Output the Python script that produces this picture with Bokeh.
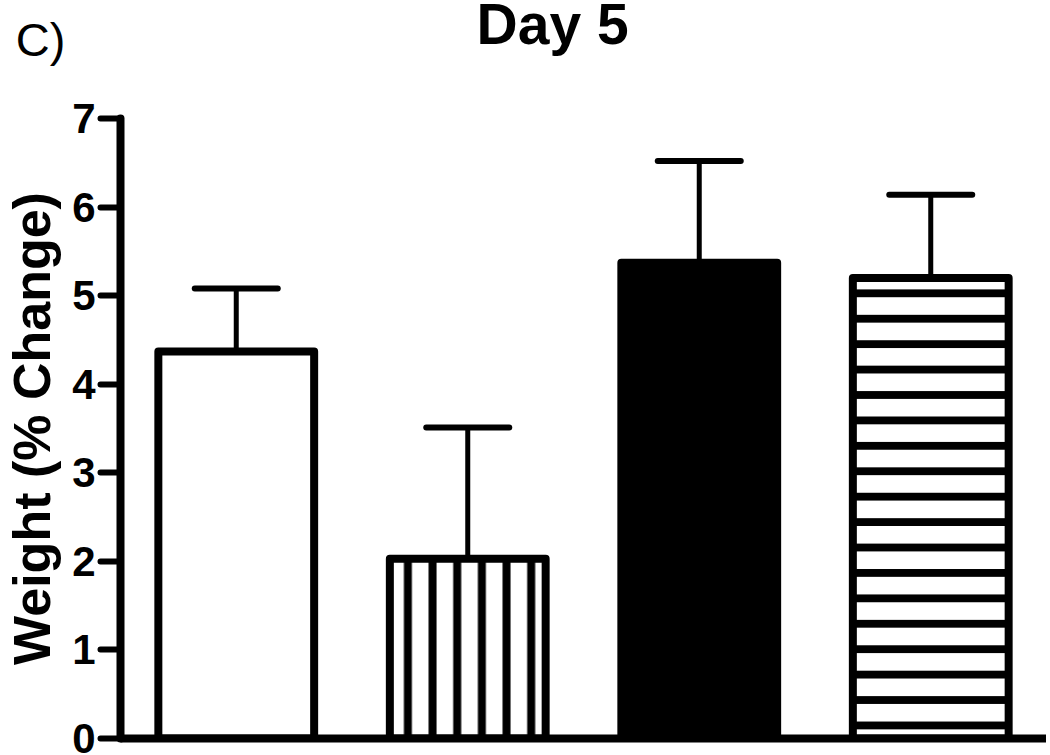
from bokeh.plotting import figure
from bokeh.models import ColumnDataSource, Whisker, TeeHead, Label, FixedTicker, FactorRange, Range1d
from bokeh.embed import file_html
from bokeh.resources import INLINE

# ---- data ----
groups = ["Group 1", "Group 2", "Group 3", "Group 4"]
means = [4.37, 2.03, 5.37, 5.20]
errors = [0.71, 1.48, 1.15, 0.94]
y_ticks = [0, 1, 2, 3, 4, 5, 6, 7]
title_text = "Day 5"
panel_text = "C)"
y_label = "Weight (% Change)"

# ---- styles ----
fills = ["white", "white", "black", "white"]
hatches = [" ", "|", " ", "-"]
hatch_scales = [24.8, 24.66, 24.8, 25.42]
FONT = "Liberation Sans"

upper = [m + e for m, e in zip(means, errors)]
src = ColumnDataSource(dict(g=groups, top=means, upper=upper,
                            fill=fills, hatch=hatches, hs=hatch_scales))

p = figure(width=1046, height=755, title=None,
           x_range=FactorRange(*groups), y_range=Range1d(0, 7),
           output_backend="svg", toolbar_location=None,
           min_border_left=115, min_border_right=0,
           min_border_top=118, min_border_bottom=17)
p.outline_line_color = None
p.grid.visible = False
p.background_fill_color = "white"
p.border_fill_color = "white"

p.vbar(x="g", top="top", bottom=0, width=0.673, source=src,
       fill_color="fill", line_color="black", line_width=8, line_join="round",
       hatch_pattern="hatch", hatch_color="black", hatch_weight=8, hatch_scale="hs")

w = Whisker(source=src, base="g", upper="upper", lower="top", dimension="height",
            line_color="black", line_width=5, line_cap="round",
            upper_head=TeeHead(size=83, line_width=6, line_color="black", line_cap="round"),
            lower_head=None)
p.add_layout(w)

# y axis
ya = p.yaxis[0]
ya.ticker = FixedTicker(ticks=y_ticks)
ya.minor_tick_line_color = None
ya.major_tick_in = 0
ya.major_tick_out = 20
ya.major_tick_line_width = 6
ya.major_tick_line_cap = "round"
ya.axis_line_width = 8
ya.axis_line_cap = "round"
ya.major_label_text_font = FONT
ya.major_label_text_font_style = "bold"
ya.major_label_text_font_size = "42px"
ya.major_label_text_color = "black"
ya.major_label_standoff = 5
ya.axis_label = y_label
ya.axis_label_text_font = FONT
ya.axis_label_text_font_style = "bold"
ya.axis_label_text_font_size = "52px"
ya.axis_label_text_color = "black"
ya.axis_label_standoff = 8

# x axis (baseline only, no labels)
xa = p.xaxis[0]
xa.axis_line_width = 8
xa.major_tick_line_color = None
xa.minor_tick_line_color = None
xa.major_tick_in = 0
xa.major_tick_out = 0
xa.major_label_text_color = None
xa.major_label_text_font_size = "1px"
xa.major_label_standoff = 0

# headings live in the top border (not clipped to the frame)
p.add_layout(Label(x=1.538, y=8.07, text=title_text,
                   text_font=FONT, text_font_style="bold", text_font_size="57px",
                   text_baseline="alphabetic", text_align="left", text_color="black"), "above")
p.add_layout(Label(x=-0.452, y=7.897, text=panel_text,
                   text_font=FONT, text_font_style="normal", text_font_size="47px",
                   text_baseline="alphabetic", text_align="left", text_color="black"), "above")

open("out.html", "w").write(file_html(p, INLINE))
